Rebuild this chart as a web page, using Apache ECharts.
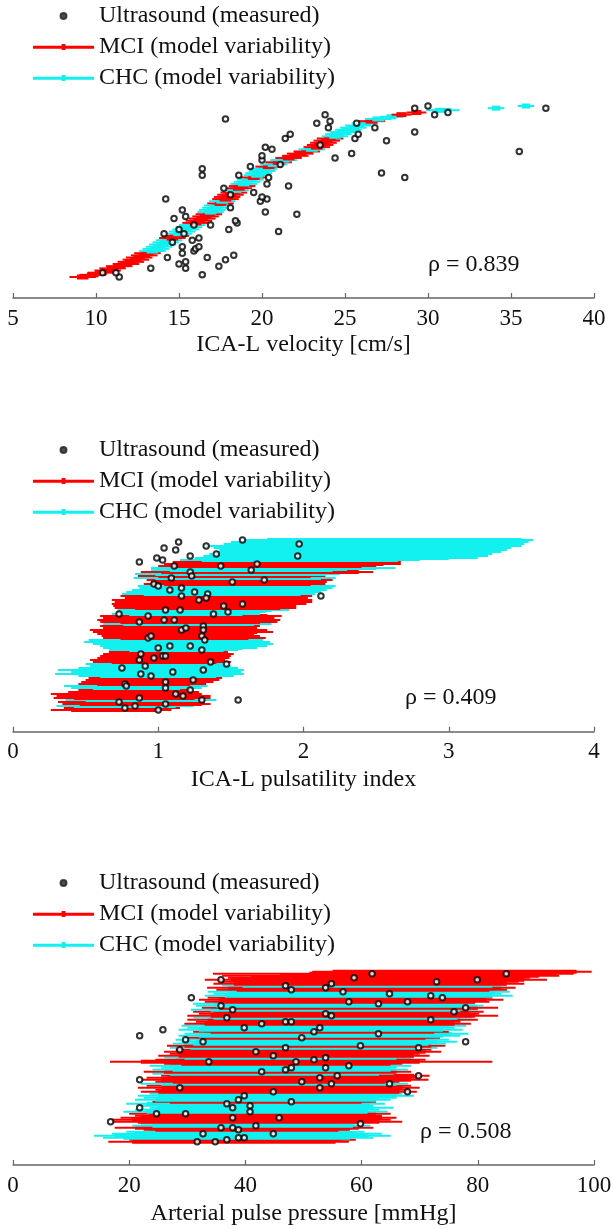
<!DOCTYPE html>
<html><head><meta charset="utf-8">
<script src="https://cdn.jsdelivr.net/npm/echarts@6/dist/echarts.min.js"></script>
<style>html,body{margin:0;padding:0;background:#fff}#c{width:613px;height:1229px}</style>
</head><body><div id="c"></div>
<script>
// ---------- DATA ----------
// model rows (sorted by model median, bottom to top): [group (0=MCI,1=CHC), whiskerLo, boxLo, boxHi, whiskerHi]
const velModel = [
[0,8.4,8.85,9.55,10.0],[0,9.0,9.45,10.15,10.6],[0,9.5,9.95,10.65,11.1],[0,9.9,10.35,11.05,11.5],[0,10.2,10.65,11.35,11.8],
[0,10.6,11.05,11.75,12.2],[0,11.0,11.45,12.15,12.6],[0,11.3,11.75,12.45,12.9],[0,11.6,12.05,12.75,13.2],[0,11.8,12.25,12.95,13.4],
[0,12.1,12.55,13.25,13.7],[0,12.3,12.75,13.45,13.9],[1,12.6,13.05,13.75,14.2],[1,12.8,13.25,13.95,14.4],[1,13.0,13.45,14.15,14.6],
[1,13.2,13.65,14.35,14.8],[1,13.4,13.85,14.55,15.0],[1,13.6,14.05,14.75,15.2],[0,13.8,14.25,14.95,15.4],[0,14.0,14.45,15.15,15.6],
[1,14.2,14.65,15.35,15.8],[1,14.4,14.85,15.55,16.0],[1,14.6,15.05,15.75,16.2],[1,14.8,15.25,15.95,16.4],[1,15.0,15.45,16.15,16.6],
[0,15.2,15.65,16.35,16.8],[0,15.4,15.85,16.55,17.0],[0,15.6,16.05,16.75,17.2],[0,15.8,16.25,16.95,17.4],[0,16.0,16.45,17.15,17.6],
[1,16.1,16.55,17.25,17.7],[1,16.2,16.65,17.35,17.8],[1,16.4,16.85,17.55,18.0],[1,16.5,16.95,17.65,18.1],[0,16.7,17.15,17.85,18.3],
[1,16.8,17.25,17.95,18.4],[0,17.0,17.45,18.15,18.6],[0,17.1,17.55,18.25,18.7],[0,17.3,17.75,18.45,18.9],[0,17.5,17.95,18.65,19.1],
[1,17.6,18.05,18.75,19.2],[0,17.8,18.25,18.95,19.4],[0,18.0,18.45,19.15,19.6],[1,18.1,18.55,19.25,19.7],[1,18.3,18.75,19.45,19.9],
[1,18.5,18.95,19.65,20.1],[0,18.7,19.15,19.85,20.3],[1,18.9,19.35,20.05,20.5],[1,19.0,19.45,20.15,20.6],[1,19.2,19.65,20.35,20.8],
[1,19.3,19.75,20.45,20.9],[0,19.6,20.05,20.75,21.2],[1,19.9,20.35,21.05,21.5],[0,20.2,20.65,21.35,21.8],[1,20.5,20.95,21.65,22.1],
[0,20.8,21.25,21.95,22.4],[0,21.2,21.65,22.35,22.8],[0,21.5,21.95,22.65,23.1],[0,21.9,22.35,23.05,23.5],[1,22.2,22.65,23.35,23.8],
[0,22.5,22.95,23.65,24.1],[0,22.7,23.15,23.85,24.3],[0,22.9,23.35,24.05,24.5],[0,23.1,23.55,24.25,24.7],[0,23.3,23.75,24.45,24.9],
[1,23.6,24.05,24.75,25.2],[1,23.8,24.25,24.95,25.4],[1,24.1,24.55,25.25,25.7],[1,24.4,24.85,25.55,26.0],[1,24.7,25.15,25.85,26.3],
[1,25.0,25.45,26.15,26.6],[1,25.4,25.85,26.55,27.0],[0,25.8,26.25,26.95,27.4],[1,26.2,26.65,27.35,27.8],[1,27.1,27.5,28.1,28.5],
[0,27.8,28.1,28.7,29.0],[0,28.7,29.0,29.6,29.9],[1,29.9,30.4,31.4,31.9],[1,33.6,33.85,34.35,34.6],[1,35.4,35.65,36.15,36.4]
];
// measured: [value, row]
const velMeasured = [
[11.4,0],[16.4,1],[10.4,2],[11.2,2],[15.4,4],[13.3,4],[17.4,5],[15.0,6],[15.4,7],[17.8,8],
[14.3,9],[16.7,9],[18.3,10],[15.2,11],[15.9,12],[16.0,13],[15.2,14],[16.2,14],[14.6,16],[15.8,17],
[16.2,18],[14.1,20],[15.3,20],[21.0,21],[18.0,22],[15.0,22],[15.9,24],[16.9,24],[18.5,25],[18.4,26],
[14.7,27],[15.4,28],[22.1,29],[20.2,30],[15.2,31],[18.1,32],[19.9,35],[14.2,36],[20.3,36],[20.0,37],
[18.1,38],[19.5,39],[17.7,41],[21.6,42],[20.3,43],[28.6,46],[20.4,46],[18.6,47],[16.4,47],[27.2,48],
[16.4,50],[19.3,51],[21.1,52],[20.0,54],[24.4,55],[20.0,56],[25.4,57],[35.5,58],[20.6,59],[23.5,61],
[20.2,60],[27.5,63],[21.4,64],[25.6,64],[21.7,66],[25.8,66],[29.2,67],[24.0,69],[26.8,69],[25.7,71],
[23.3,71],[24.1,72],[17.8,73],[23.8,75],[30.4,75],[31.2,76],[29.2,78],[37.1,78],[30.0,79]
];

const piModel = [
[0,0.26,0.40,1.00,1.09],[0,0.35,0.47,1.05,1.15],[1,0.30,0.42,1.12,1.24],[0,0.34,0.46,1.30,1.36],[0,0.31,0.45,1.20,1.32],
[1,0.36,0.50,1.28,1.40],[0,0.28,0.42,1.25,1.36],[0,0.30,0.45,1.22,1.36],[0,0.26,0.40,1.15,1.30],[0,0.38,0.50,1.18,1.28],
[0,0.45,0.55,1.12,1.22],[1,0.40,0.55,1.15,1.30],[1,0.35,0.50,1.20,1.34],[0,0.45,0.58,1.22,1.33],[0,0.47,0.60,1.28,1.38],
[0,0.50,0.62,1.30,1.42],[0,0.52,0.65,1.32,1.44],[1,0.45,0.60,1.40,1.52],[1,0.29,0.48,1.48,1.59],[1,0.40,0.55,1.45,1.57],
[1,0.31,0.50,1.50,1.59],[1,0.45,0.58,1.46,1.55],[1,0.53,0.66,1.42,1.50],[1,0.50,0.63,1.38,1.48],[0,0.55,0.68,1.40,1.50],
[0,0.53,0.68,1.36,1.46],[0,0.58,0.72,1.38,1.49],[0,0.60,0.74,1.40,1.50],[0,0.62,0.75,1.42,1.52],[0,0.66,0.78,1.38,1.48],
[1,0.66,0.80,1.45,1.55],[1,0.62,0.76,1.58,1.68],[1,0.60,0.72,1.62,1.75],[1,0.55,0.68,1.68,1.79],[1,0.49,0.62,1.65,1.77],
[1,0.52,0.66,1.60,1.72],[0,0.62,0.74,1.62,1.74],[0,0.61,0.76,1.58,1.70],[0,0.58,0.70,1.55,1.66],[0,0.55,0.68,1.68,1.79],
[0,0.53,0.68,1.62,1.75],[0,0.62,0.75,1.58,1.68],[0,0.60,0.74,1.60,1.70],[1,0.62,0.76,1.66,1.78],[0,0.60,0.74,1.70,1.82],
[0,0.58,0.72,1.72,1.84],[0,0.62,0.75,1.68,1.80],[0,0.60,0.74,1.75,1.85],[1,0.68,0.80,1.58,1.70],[1,0.72,0.85,1.62,1.74],
[1,0.72,0.86,1.78,1.90],[0,0.70,0.84,1.84,1.95],[0,0.69,0.82,1.85,1.95],[0,0.68,0.82,1.92,2.02],[0,0.70,0.84,1.95,2.06],
[0,0.68,0.82,1.96,2.06],[0,0.77,0.90,1.92,2.03],[0,0.74,0.88,1.94,2.06],[1,0.75,0.90,1.98,2.08],[1,0.78,0.92,2.00,2.12],
[1,0.82,0.95,2.05,2.16],[1,0.87,1.00,2.10,2.20],[1,0.86,1.00,2.12,2.22],[0,0.90,1.04,2.05,2.15],[0,0.95,1.08,2.08,2.16],
[0,0.92,1.05,2.10,2.20],[1,0.83,0.98,2.12,2.22],[0,0.86,1.00,2.05,2.15],[1,0.84,0.98,2.15,2.25],[0,0.88,1.02,2.38,2.48],
[1,0.95,1.08,2.20,2.30],[1,0.95,1.10,2.50,2.63],[0,1.00,1.12,2.40,2.50],[0,1.04,1.18,2.55,2.67],[0,1.10,1.25,2.60,2.67],
[1,1.15,1.30,2.65,2.80],[1,1.25,1.38,3.00,3.20],[1,1.31,1.45,3.10,3.27],[1,1.35,1.50,3.15,3.30],[1,1.40,1.55,3.20,3.36],
[1,1.42,1.58,3.25,3.40],[1,1.38,1.52,3.30,3.43],[1,1.31,1.48,3.35,3.50],[1,1.45,1.60,3.40,3.52],[1,1.50,1.65,3.45,3.55],
[1,1.59,1.75,3.50,3.58]
];
const piMeasured = [
[1.14,84],[1.58,85],[1.33,82],[1.97,83],[1.04,81],[1.12,80],[1.22,77],[0.99,76],[1.03,75],[0.87,74],
[1.40,78],[1.96,77],[1.43,72],[1.68,73],[1.11,72],[1.09,66],[1.22,69],[1.23,67],[1.64,70],[1.73,65],
[0.97,63],[1.00,62],[1.08,60],[1.16,61],[1.25,59],[1.34,58],[1.16,57],[1.28,55],[1.33,56],[1.51,64],
[2.12,57],[1.45,52],[1.48,49],[1.58,53],[1.38,48],[1.05,50],[1.15,50],[0.73,48],[0.93,47],[1.04,45],
[1.11,45],[0.87,44],[1.16,40],[1.19,41],[1.31,42],[1.31,40],[1.30,37],[1.32,35],[0.93,36],[0.95,37],
[1.22,32],[1.00,31],[1.08,32],[1.30,30],[0.88,28],[0.97,26],[0.87,25],[1.03,27],[1.05,27],[1.36,24],
[1.47,23],[0.75,21],[0.91,22],[1.10,19],[1.31,20],[0.88,18],[0.95,17],[1.05,14],[1.24,15],[0.77,13],
[0.78,12],[1.05,11],[1.22,10],[1.12,8],[1.17,7],[0.87,6],[1.30,5],[1.55,5],[0.73,4],[0.84,2],
[0.77,1],[1.05,3],[1.00,0]
];

const ppModel = [
[0,16.4,20.5,55.5,57.8],[0,20.0,23.0,56.5,59.0],[1,15.5,19.0,58.0,62.0],[1,13.9,17.5,61.0,65.0],[1,17.0,21.0,59.0,63.5],
[1,19.5,23.5,57.5,60.5],[0,22.5,24.5,56.0,58.0],[0,17.5,21.0,59.5,62.0],[1,20.5,24.0,58.5,61.5],[1,22.0,25.5,56.0,59.0],
[0,17.0,21.5,63.0,67.0],[0,17.0,20.5,62.0,65.0],[0,18.5,22.0,63.5,66.0],[0,21.0,24.0,61.0,63.5],[0,20.0,23.5,62.5,65.0],
[1,19.0,23.0,61.0,64.5],[1,21.0,24.5,60.5,63.0],[1,23.5,25.5,62.0,65.5],[1,22.0,25.0,59.5,62.0],[1,19.5,23.0,61.5,64.0],
[0,24.0,27.0,60.0,62.5],[1,21.0,24.5,62.5,65.0],[1,22.5,26.0,63.0,66.0],[1,21.5,25.0,66.0,69.0],[1,23.5,27.5,64.0,67.0],
[0,22.0,25.0,66.5,69.5],[0,24.5,28.0,65.0,68.0],[0,21.5,25.5,67.0,70.0],[0,23.0,26.5,65.5,68.5],[1,22.0,25.5,66.0,68.0],
[0,24.5,27.5,64.0,66.5],[0,22.0,25.5,68.5,71.5],[0,23.0,26.5,66.5,69.5],[0,25.5,28.5,69.0,71.7],[1,24.0,27.0,63.0,65.5],
[0,22.5,26.0,66.0,68.5],[1,24.0,27.5,65.0,68.0],[1,25.5,28.5,63.5,66.0],[1,23.5,27.0,66.0,68.5],[0,26.0,29.0,65.0,67.0],
[0,16.7,22.0,70.0,82.5],[0,24.5,28.0,68.5,71.0],[1,26.0,29.5,66.0,69.0],[0,25.0,28.5,69.0,71.7],[0,27.0,30.5,67.5,70.0],
[0,26.0,29.0,71.0,73.7],[0,28.0,31.0,69.5,72.0],[1,27.0,30.5,70.0,73.0],[0,26.5,29.5,72.0,74.4],[1,27.5,31.0,71.5,74.5],
[1,29.0,32.0,73.0,76.4],[1,28.0,31.5,72.5,75.0],[0,30.0,33.0,71.0,73.5],[1,28.5,32.0,74.0,77.0],[1,29.5,33.0,75.5,78.4],
[0,31.0,34.0,72.5,75.0],[1,28.5,32.0,74.0,77.4],[1,30.0,33.5,73.0,76.0],[1,29.0,32.5,75.0,78.0],[0,29.5,33.0,76.0,78.8],
[0,31.5,34.5,74.5,77.0],[0,30.0,33.5,77.0,80.0],[1,31.0,34.5,76.5,79.0],[0,30.0,34.0,79.5,83.5],[0,32.0,35.0,77.5,80.2],
[0,31.0,34.5,78.5,81.0],[1,30.6,34.0,77.0,80.0],[0,32.5,35.5,80.0,83.5],[1,31.5,35.0,78.0,81.0],[1,31.0,34.5,76.5,79.5],
[0,33.0,36.0,79.5,82.0],[0,32.0,35.5,81.5,84.4],[0,33.5,37.0,80.0,82.5],[1,33.0,36.5,82.5,86.0],[1,34.5,38.0,81.0,84.0],
[1,33.5,37.0,83.0,85.5],[0,35.0,38.5,82.0,85.0],[0,33.4,37.0,84.0,86.5],[1,36.0,39.5,82.5,85.0],[0,34.5,38.0,85.0,88.0],
[0,36.0,40.0,84.5,87.0],[0,33.0,37.5,88.0,91.9],[0,37.0,41.0,86.0,89.0],[0,36.0,46.0,90.5,94.0],[0,34.4,51.0,93.5,96.5],
[0,51.5,55.0,97.0,99.6]
];
const ppMeasured = [
[35.8,81],[61.8,84],[58.7,82],[84.9,84],[79.9,81],[72.9,80],[46.9,78],[47.9,76],[53.8,77],[54.8,79],
[56.8,75],[64.8,74],[71.9,73],[73.9,72],[30.7,72],[57.8,70],[67.9,70],[62.9,69],[35.8,68],[37.8,66],
[77.9,67],[53.8,64],[54.8,63],[36.8,62],[75.9,65],[71.9,61],[46.9,60],[47.9,60],[39.8,57],[42.8,59],
[52.8,57],[51.8,55],[21.8,53],[25.8,56],[62.9,54],[29.7,51],[32.7,50],[49.7,52],[77.9,50],[59.8,48],
[46.9,47],[28.7,46],[69.8,47],[41.8,45],[44.8,43],[33.7,40],[51.8,41],[53.8,42],[48.7,40],[57.8,38],
[47.9,37],[46.9,36],[42.8,35],[53.8,37],[21.8,31],[55.8,33],[69.8,33],[52.8,32],[49.7,30],[54.8,29],
[64.8,29],[28.7,27],[52.8,27],[44.8,25],[67.9,25],[39.8,23],[38.8,21],[47.9,20],[36.8,19],[37.8,17],
[40.8,18],[40.8,15],[21.8,17],[24.7,14],[29.7,14],[37.8,12],[45.8,12],[16.8,10],[59.8,9],[35.8,7],
[37.8,7],[38.8,6],[41.8,8],[32.7,4],[44.8,4],[39.8,2],[36.8,1],[38.8,2],[31.7,0],[34.8,0]
];

const axisNames = ['ICA-L velocity [cm/s]', 'ICA-L pulsatility index', 'Arterial pulse pressure [mmHg]'];
const rhoLabels = ['ρ = 0.839', 'ρ = 0.409', 'ρ = 0.508'];
const seriesNames = ['Ultrasound (measured)', 'MCI (model variability)', 'CHC (model variability)'];

// ---------- LAYOUT ----------
const FONT = '"Liberation Serif","Times New Roman",serif';
const RED = '#ff0000', CYAN = '#12f0f0';
const panels = [
  {rows: velModel, meas: velMeasured, xmin: 5, xmax: 40, step: 5, top: 106, axisY: 298, ymin: -9.7, ymax: 79, legendTop: 4, rhoX: 428, rhoY: 253, thick: 5, gap: 35},
  {rows: piModel, meas: piMeasured, xmin: 0, xmax: 4, step: 1, top: 540, axisY: 731.7, ymin: -10.85, ymax: 85, legendTop: 438, rhoX: 405, rhoY: 686, thick: 4, gap: 36},
  {rows: ppModel, meas: ppMeasured, xmin: 0, xmax: 100, step: 20, top: 971.7, axisY: 1165, ymin: -11.65, ymax: 85, legendTop: 871, rhoX: 420, rhoY: 1120, thick: 4, gap: 37}
];

function barRenderer(color, thick) {
  return function (params, api) {
    const r = api.value(0);
    const a = api.coord([api.value(1), r]);
    const b = api.coord([api.value(2), r]);
    const c = api.coord([api.value(3), r]);
    const d = api.coord([api.value(4), r]);
    return {
      type: 'group',
      children: [
        {type: 'line', z2: r * 2, shape: {x1: a[0], y1: a[1], x2: d[0], y2: d[1]}, style: {stroke: color, lineWidth: 2}},
        {type: 'line', z2: r * 2 + 1, shape: {x1: b[0], y1: b[1], x2: c[0], y2: c[1]}, style: {stroke: color, lineWidth: thick}}
      ]
    };
  };
}

const lineIcon = 'path://M0 2H61V5H0Z M28.6 0.4H32.4V6.2H28.6Z';

const option = {
  animation: false,
  backgroundColor: '#fff',
  grid: [], xAxis: [], yAxis: [], series: [], legend: [], graphic: []
};

panels.forEach((p, i) => {
  option.grid.push({left: 13, right: 19, top: p.top, height: p.axisY - p.top, containLabel: false, outerBoundsMode: 'none'});
  option.xAxis.push({
    type: 'value', gridIndex: i, min: p.xmin, max: p.xmax, interval: p.step, position: 'bottom',
    splitLine: {show: false},
    axisLine: {show: true, onZero: false, lineStyle: {color: '#666', width: 1.5}},
    axisTick: {show: true, inside: true, length: 5, lineStyle: {color: '#666', width: 1.2}},
    axisLabel: {fontFamily: FONT, fontSize: 23, color: '#111', margin: 9},
    name: axisNames[i], nameLocation: 'middle', nameGap: p.gap,
    nameTextStyle: {fontFamily: FONT, fontSize: 24, color: '#111'}
  });
  option.yAxis.push({type: 'value', gridIndex: i, min: p.ymin, max: p.ymax, show: false, splitLine: {show: false}});
  const rowsData = p.rows.map((d, k) => ({g: d[0], v: [k, d[1], d[2], d[3], d[4]]}));
  [0, 1].forEach(g => {
    option.series.push({
      type: 'custom', name: seriesNames[g + 1], xAxisIndex: i, yAxisIndex: i, z: 2, clip: false,
      itemStyle: {color: g === 0 ? RED : CYAN},
      encode: {x: [1, 2, 3, 4], y: 0},
      renderItem: barRenderer(g === 0 ? RED : CYAN, p.thick),
      data: rowsData.filter(o => o.g === g).map(o => o.v)
    });
  });
  option.series.push({
    type: 'scatter', name: seriesNames[0], xAxisIndex: i, yAxisIndex: i, z: 5, clip: false,
    symbol: 'circle', symbolSize: 5.5,
    itemStyle: {color: '#ffffff', borderColor: '#000', borderWidth: 2},
    data: p.meas.map(m => [m[0], m[1]])
  });
  option.legend.push({
    orient: 'vertical', left: 33, top: p.legendTop, padding: 0, itemGap: 7,
    itemWidth: 61, itemHeight: 6, selectedMode: false,
    textStyle: {fontFamily: FONT, fontSize: 24, lineHeight: 24, color: '#111'},
    data: [
      {name: seriesNames[0], icon: 'circle', itemStyle: {color: '#222', borderColor: '#222'}},
      {name: seriesNames[1], icon: lineIcon},
      {name: seriesNames[2], icon: lineIcon}
    ]
  });
  option.graphic.push({
    type: 'text', left: p.rhoX, top: p.rhoY, z: 10,
    style: {text: rhoLabels[i], font: '24px ' + FONT, fill: '#111'}
  });
});

const chart = echarts.init(document.getElementById('c'), null, {renderer: 'canvas'});
chart.setOption(option);
</script>
</body></html>
